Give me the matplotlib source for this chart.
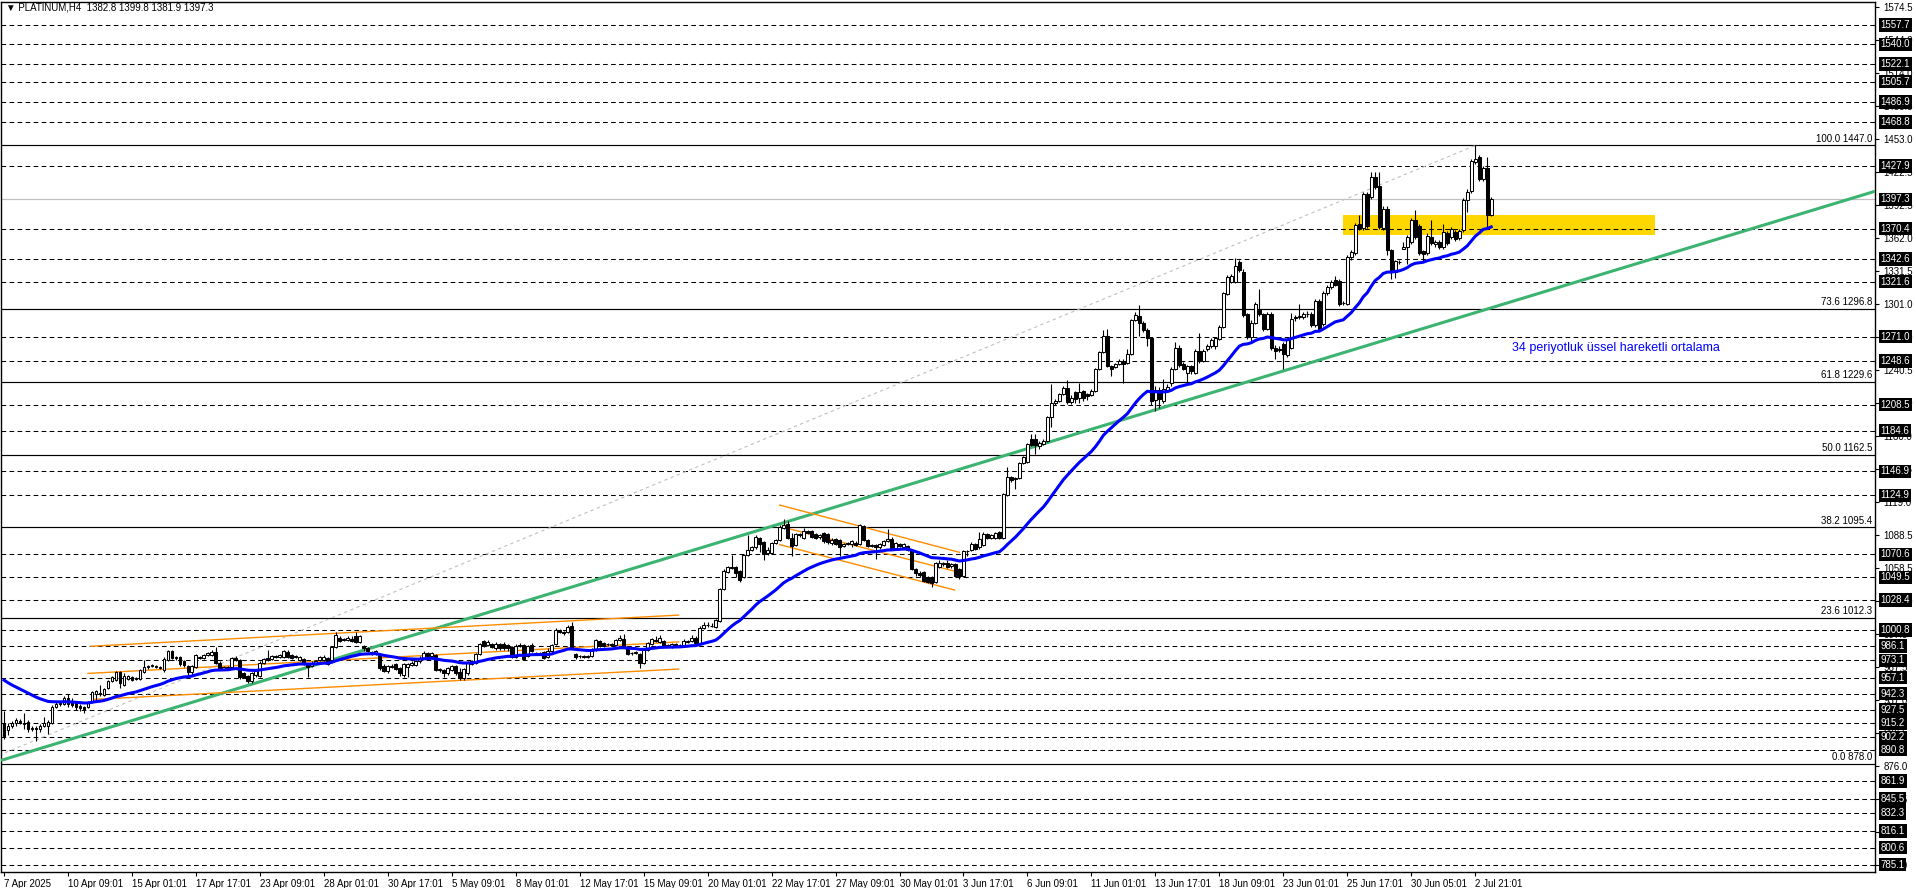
import numpy as np
import matplotlib
matplotlib.use("Agg")
import matplotlib.pyplot as plt
from matplotlib.patches import Rectangle
from matplotlib.transforms import blended_transform_factory

plt.rcParams['font.family'] = ['Liberation Sans', 'DejaVu Sans']

# ---- H4 candles, PLATINUM, 7 Apr - 3 Jul 2025 ----
opens = [
    915, 909, 913, 915, 916, 915, 916, 910, 911, 910,
    913, 913, 915, 930, 933, 933, 938, 936, 934, 931,
    930, 930, 935, 942, 943, 941, 948, 954, 955, 962,
    950, 956, 958, 956, 956, 962, 967, 968, 968, 966,
    964, 973, 982, 975, 976, 972, 968, 962, 967, 976,
    975, 978, 978, 981, 971, 965, 967, 967, 975, 973,
    961, 959, 954, 960, 959, 971, 975, 974, 977, 976,
    976, 981, 978, 976, 973, 974, 970, 968, 971, 973,
    973, 975, 973, 985, 994, 992, 992, 993, 995, 990,
    986, 984, 981, 979, 978, 968, 963, 967, 970, 966,
    960, 967, 969, 969, 972, 975, 980, 977, 978, 964,
    964, 961, 964, 968, 962, 957, 961, 970, 971, 979,
    991, 987, 988, 984, 988, 988, 987, 985, 976, 986,
    987, 977, 987, 980, 979, 981, 976, 982, 988, 1001,
    999, 999, 1005, 979, 977, 977, 976, 977, 983, 991,
    989, 988, 988, 987, 992, 993, 985, 980, 980, 979,
    971, 983, 988, 992, 990, 991, 987, 985, 988, 987,
    987, 990, 991, 994, 989, 1003, 1006, 1005, 1004, 1009,
    1039, 1054, 1059, 1059, 1055, 1050, 1070, 1075, 1077, 1086,
    1082, 1072, 1072, 1081, 1084, 1095, 1099, 1086, 1079, 1089,
    1086, 1092, 1092, 1089, 1087, 1090, 1089, 1081, 1085, 1084,
    1078, 1080, 1080, 1081, 1080, 1097, 1084, 1078, 1079, 1077,
    1079, 1083, 1085, 1076, 1080, 1077, 1078, 1075, 1057, 1053,
    1054, 1050, 1050, 1045, 1059, 1062, 1063, 1060, 1062, 1057,
    1051, 1074, 1075, 1080, 1077, 1079, 1089, 1086, 1086, 1091,
    1086, 1125, 1142, 1140, 1141, 1155, 1156, 1177, 1177, 1170,
    1172, 1175, 1197, 1210, 1212, 1218, 1224, 1211, 1220, 1215,
    1221, 1218, 1217, 1221, 1241, 1257, 1272, 1244, 1243, 1246,
    1249, 1247, 1255, 1286, 1290, 1284, 1277, 1270, 1213, 1222,
    1212, 1221, 1228, 1241, 1261, 1246, 1238, 1244, 1238, 1258,
    1249, 1260, 1262, 1262, 1269, 1280, 1310, 1321, 1321, 1340,
    1331, 1292, 1271, 1284, 1296, 1292, 1278, 1292, 1261, 1259,
    1264, 1254, 1261, 1288, 1289, 1289, 1292, 1292, 1282, 1304,
    1283, 1311, 1317, 1323, 1322, 1302, 1301, 1344, 1348, 1375,
    1371, 1402, 1400, 1418, 1410, 1371, 1389, 1351, 1331, 1340,
    1352, 1354, 1358, 1378, 1373, 1350, 1348, 1363, 1356, 1358,
    1354, 1366, 1363, 1367, 1362, 1369, 1397, 1405, 1432, 1436,
    1416, 1426, 1382.8,
]
highs = [
    926, 915, 917, 920, 919, 925, 918, 913, 913, 914,
    921, 918, 932, 935, 936, 940, 942, 938, 935, 933,
    931, 936, 945, 946, 950, 948, 955, 959, 963, 963,
    961, 960, 959, 958, 965, 973, 969, 970, 969, 968,
    976, 983, 983, 977, 977, 973, 969, 969, 979, 977,
    979, 981, 983, 985, 972, 968, 968, 976, 977, 974,
    962, 960, 962, 964, 972, 975, 983, 978, 978, 979,
    983, 983, 979, 978, 977, 975, 971, 972, 973, 977,
    978, 976, 986, 999, 995, 994, 995, 995, 999, 996,
    987, 985, 982, 983, 979, 970, 969, 970, 971, 967,
    971, 971, 972, 973, 977, 982, 981, 981, 979, 966,
    965, 967, 969, 969, 966, 966, 972, 973, 980, 989,
    992, 992, 989, 990, 989, 990, 988, 986, 988, 989,
    988, 987, 989, 981, 981, 982, 984, 988, 1003, 1002,
    1000, 1006, 1008, 980, 978, 978, 978, 984, 993, 992,
    990, 989, 989, 993, 996, 997, 986, 981, 982, 980,
    984, 990, 994, 995, 996, 992, 988, 989, 989, 988,
    993, 992, 996, 995, 1005, 1008, 1008, 1007, 1011, 1040,
    1057, 1060, 1070, 1060, 1056, 1071, 1088, 1078, 1088, 1087,
    1083, 1077, 1082, 1085, 1098, 1103, 1101, 1090, 1090, 1090,
    1095, 1093, 1093, 1090, 1089, 1091, 1090, 1086, 1086, 1085,
    1081, 1082, 1084, 1083, 1099, 1098, 1085, 1080, 1080, 1081,
    1084, 1094, 1087, 1082, 1081, 1081, 1079, 1076, 1058, 1055,
    1055, 1051, 1051, 1064, 1065, 1064, 1065, 1063, 1063, 1058,
    1075, 1075, 1082, 1081, 1091, 1091, 1090, 1089, 1091, 1092,
    1127, 1151, 1143, 1142, 1156, 1161, 1173, 1181, 1181, 1175,
    1177, 1198, 1227, 1214, 1219, 1226, 1231, 1217, 1221, 1228,
    1222, 1219, 1223, 1242, 1258, 1277, 1278, 1245, 1247, 1250,
    1250, 1260, 1287, 1294, 1300, 1285, 1279, 1271, 1226, 1225,
    1232, 1227, 1243, 1266, 1263, 1248, 1245, 1245, 1260, 1274,
    1260, 1264, 1270, 1271, 1282, 1312, 1328, 1329, 1343, 1342,
    1333, 1293, 1286, 1303, 1315, 1293, 1294, 1294, 1263, 1262,
    1266, 1270, 1293, 1291, 1301, 1294, 1295, 1294, 1306, 1306,
    1313, 1319, 1323, 1327, 1324, 1304, 1346, 1351, 1376, 1383,
    1404, 1404, 1423, 1423, 1423, 1391, 1391, 1352, 1342, 1342,
    1358, 1365, 1380, 1388, 1375, 1351, 1366, 1378, 1360, 1360,
    1375, 1368, 1372, 1369, 1370, 1399, 1407, 1435, 1447, 1438,
    1428, 1436, 1399.8,
]
lows = [
    901, 904, 911, 913, 914, 910, 907, 908, 899, 907,
    912, 905, 914, 929, 931, 932, 930, 930, 927, 926,
    925, 929, 934, 936, 940, 940, 947, 953, 954, 948,
    949, 955, 954, 955, 955, 961, 965, 967, 966, 965,
    962, 972, 974, 973, 968, 967, 960, 960, 966, 974,
    974, 977, 977, 970, 964, 964, 965, 966, 972, 956,
    957, 952, 952, 958, 958, 970, 972, 973, 975, 975,
    975, 975, 974, 975, 972, 969, 958, 967, 970, 972,
    972, 969, 972, 984, 990, 991, 991, 990, 989, 989,
    982, 981, 978, 978, 964, 962, 961, 966, 964, 959,
    958, 958, 968, 968, 971, 974, 976, 976, 963, 962,
    958, 960, 963, 960, 955, 955, 960, 969, 970, 978,
    985, 986, 984, 983, 983, 983, 982, 975, 975, 985,
    973, 976, 981, 978, 978, 974, 975, 981, 987, 998,
    996, 998, 984, 974, 975, 975, 975, 976, 982, 985,
    985, 986, 986, 986, 991, 984, 978, 978, 979, 966,
    970, 982, 987, 990, 989, 986, 985, 984, 985, 985,
    986, 989, 990, 988, 988, 1002, 1004, 1004, 1003, 1008,
    1038, 1053, 1057, 1050, 1045, 1049, 1069, 1074, 1076, 1073,
    1065, 1070, 1071, 1080, 1083, 1094, 1085, 1069, 1078, 1087,
    1085, 1089, 1086, 1085, 1085, 1081, 1080, 1079, 1079, 1069,
    1077, 1079, 1077, 1078, 1079, 1083, 1077, 1077, 1066, 1076,
    1078, 1082, 1075, 1075, 1077, 1076, 1074, 1056, 1051, 1050,
    1045, 1044, 1041, 1044, 1058, 1060, 1058, 1058, 1050, 1048,
    1050, 1069, 1074, 1075, 1076, 1078, 1085, 1085, 1085, 1085,
    1085, 1124, 1137, 1131, 1140, 1154, 1155, 1170, 1163, 1168,
    1171, 1174, 1188, 1208, 1211, 1217, 1209, 1209, 1210, 1210,
    1212, 1213, 1216, 1220, 1240, 1256, 1243, 1235, 1242, 1245,
    1228, 1246, 1254, 1285, 1272, 1275, 1262, 1208, 1203, 1205,
    1210, 1220, 1226, 1240, 1243, 1240, 1229, 1237, 1237, 1247,
    1248, 1258, 1261, 1260, 1268, 1279, 1309, 1320, 1320, 1331,
    1289, 1269, 1266, 1283, 1290, 1276, 1277, 1259, 1250, 1257,
    1241, 1252, 1260, 1285, 1287, 1287, 1289, 1280, 1280, 1276,
    1281, 1309, 1315, 1318, 1299, 1300, 1300, 1342, 1346, 1369,
    1369, 1371, 1398, 1407, 1370, 1369, 1346, 1324, 1325, 1338,
    1352, 1338, 1356, 1361, 1346, 1341, 1346, 1355, 1354, 1352,
    1352, 1355, 1361, 1359, 1360, 1367, 1386, 1403, 1430, 1414,
    1414, 1370, 1381.9,
]
closes = [
    903, 913, 915, 918, 917, 914, 910, 911, 910, 913,
    915, 916, 930, 933, 934, 938, 933, 932, 930, 929,
    928, 935, 944, 945, 942, 947, 954, 958, 962, 952,
    959, 959, 955, 957, 964, 967, 968, 969, 967, 967,
    974, 982, 975, 976, 970, 969, 962, 968, 978, 975,
    978, 980, 981, 971, 965, 967, 966, 975, 973, 958,
    958, 954, 961, 963, 971, 974, 973, 977, 976, 978,
    982, 976, 975, 977, 976, 970, 967, 971, 972, 976,
    976, 970, 985, 996, 991, 993, 994, 991, 990, 995,
    984, 982, 980, 982, 966, 963, 968, 968, 965, 961,
    970, 970, 971, 972, 975, 980, 977, 980, 964, 965,
    961, 966, 968, 961, 957, 965, 971, 972, 979, 988,
    986, 990, 985, 988, 984, 984, 984, 976, 986, 987,
    974, 986, 982, 979, 980, 975, 982, 987, 1001, 999,
    998, 1004, 985, 976, 977, 976, 977, 983, 992, 986,
    986, 988, 987, 992, 994, 985, 979, 980, 981, 971,
    983, 989, 993, 991, 994, 987, 986, 988, 986, 987,
    991, 991, 994, 989, 1003, 1006, 1006, 1005, 1010, 1039,
    1055, 1059, 1058, 1053, 1047, 1070, 1075, 1077, 1087, 1080,
    1071, 1075, 1081, 1084, 1096, 1098, 1086, 1078, 1089, 1088,
    1092, 1090, 1087, 1086, 1088, 1083, 1082, 1084, 1080, 1077,
    1080, 1081, 1083, 1079, 1098, 1084, 1078, 1079, 1077, 1080,
    1083, 1085, 1076, 1081, 1078, 1080, 1075, 1057, 1053, 1052,
    1046, 1045, 1044, 1063, 1063, 1063, 1059, 1062, 1051, 1051,
    1074, 1074, 1080, 1076, 1085, 1089, 1086, 1088, 1090, 1086,
    1126, 1142, 1139, 1141, 1155, 1160, 1172, 1171, 1171, 1173,
    1175, 1197, 1210, 1212, 1218, 1224, 1211, 1215, 1214, 1220,
    1215, 1216, 1221, 1241, 1257, 1272, 1244, 1241, 1246, 1249,
    1246, 1255, 1286, 1291, 1284, 1277, 1270, 1212, 1222, 1214,
    1223, 1225, 1241, 1261, 1245, 1241, 1244, 1239, 1258, 1249,
    1258, 1262, 1268, 1270, 1280, 1311, 1326, 1327, 1336, 1332,
    1291, 1271, 1284, 1301, 1292, 1278, 1292, 1261, 1258, 1260,
    1255, 1268, 1287, 1289, 1290, 1292, 1292, 1282, 1304, 1278,
    1311, 1317, 1321, 1319, 1301, 1302, 1344, 1349, 1374, 1371,
    1402, 1373, 1418, 1409, 1372, 1389, 1351, 1331, 1341, 1340,
    1354, 1363, 1378, 1363, 1348, 1347, 1364, 1357, 1358, 1354,
    1367, 1357, 1370, 1361, 1368, 1397, 1404, 1433, 1435, 1416,
    1426, 1383, 1397.3,
]

ema_period = 34
ema_seed = 958.0          # EMA value at the first visible bar

# horizontal dashed levels (labels in black boxes on the price axis)
levels = [1557.7, 1540.0, 1522.1, 1505.7, 1486.9, 1468.8, 1427.9, 1370.4,
          1342.6, 1321.6, 1271.0, 1248.6, 1208.5, 1184.6, 1146.9, 1124.9,
          1070.6, 1049.5, 1028.4, 1000.8, 986.1, 973.1, 957.1, 942.3,
          927.5, 915.2, 902.2, 890.8, 861.9, 845.5, 832.3, 816.1, 800.6, 785.1]
last_price = 1397.3

# Fibonacci retracement
fib_pct = ["100.0", "73.6", "61.8", "50.0", "38.2", "23.6", "0.0"]
fib_prices = [1447.0, 1296.8, 1229.6, 1162.5, 1095.4, 1012.3, 878.0]
fib_anchor_bars = [-6.3, 368]
fib_anchor_prices = [878.0, 1447.0]

# green trend line (ray) anchors
trend_bars = [0, 374]
trend_prices = [881.8, 1299.8]

# orange channels: (bar0, bar1, price0, price1)
channels = [
    (21.75, 168.75, 986.0, 1014.7),
    (21.0, 168.75, 961.0, 990.0),
    (22.0, 168.75, 937.0, 965.0),
    (194.0, 239.0, 1116.0, 1072.5),
    (195.0, 239.0, 1095.5, 1054.0),
    (194.0, 237.75, 1079.6, 1037.8),
]

# yellow zone
zone_bars = [335, 413]
zone_prices = [1364.2, 1382.6]

# price axis ticks
ytick_vals = [1574.5, 1544.1, 1513.75, 1483.4, 1453.0, 1422.6, 1392.25, 1361.9,
              1331.5, 1301.1, 1270.75, 1240.4, 1210.0, 1179.6, 1149.25, 1118.9,
              1088.5, 1058.1, 1027.75, 997.4, 967.0, 936.6, 906.25, 875.9,
              845.5, 815.1, 784.75]
ytick_labels = ["1574.5", "1544.0", "1514.0", "1483.5", "1453.0", "1422.5",
                "1392.5", "1362.0", "1331.5", "1301.0", "1271.0", "1240.5",
                "1210.0", "1180.0", "1149.5", "1119.0", "1088.5", "1058.5",
                "1028.0", "997.5", "967.5", "937.0", "906.5", "876.0",
                "845.5", "815.0", "785.0"]

# time axis (a label every 16 bars)
xtick_labels = ["7 Apr 2025", "10 Apr 09:01", "15 Apr 01:01", "17 Apr 17:01",
                "23 Apr 09:01", "28 Apr 01:01", "30 Apr 17:01", "5 May 09:01",
                "8 May 01:01", "12 May 17:01", "15 May 09:01", "20 May 01:01",
                "22 May 17:01", "27 May 09:01", "30 May 01:01", "3 Jun 17:01",
                "6 Jun 09:01", "11 Jun 01:01", "13 Jun 17:01", "18 Jun 09:01",
                "23 Jun 01:01", "25 Jun 17:01", "30 Jun 05:01", "2 Jul 21:01"]

title = "\u25bc PLATINUM,H4  1382.8 1399.8 1381.9 1397.3"
note = "34 periyotluk üssel hareketli ortalama"

# ---------------------------------------------------------------------
o = np.array(opens, float)
h = np.array(highs, float)
l = np.array(lows, float)
c = np.array(closes, float)
x = np.arange(len(c))

fig = plt.figure(figsize=(19.16, 8.88), dpi=100)
ax = fig.add_axes([1 / 1916, 16 / 888, 1874 / 1916, 870 / 888])
x_min, x_max = -0.75, 468
ax.set_xlim(x_min, x_max)
ax.set_ylim(778.2, 1579.1)

# zone
ax.add_patch(Rectangle((zone_bars[0], zone_prices[0]), zone_bars[1] - zone_bars[0],
                       zone_prices[1] - zone_prices[0], fc='#FFD700', ec='none', zorder=1))

# levels
for lv in levels:
    ax.axhline(lv, color='black', lw=0.75, dashes=(4.5, 3.2), zorder=2)
for fp in fib_prices:
    ax.axhline(fp, color='black', lw=0.85, zorder=2)
ax.axhline(last_price, color='#c0c0c0', lw=0.9, zorder=2)

# fib diagonal
ax.plot(fib_anchor_bars, fib_anchor_prices, color='#c0c0c0', lw=0.8,
        dashes=(3, 3), zorder=2)

# trend line extended to the right edge
slope = (trend_prices[1] - trend_prices[0]) / (trend_bars[1] - trend_bars[0])
tx = np.array([x_min, x_max])
ax.plot(tx, trend_prices[0] + slope * (tx - trend_bars[0]), color='#3cb371',
        lw=2.2, zorder=3, solid_capstyle='butt')

# orange channels
for b0, b1, p0, p1 in channels:
    ax.plot([b0, b1], [p0, p1], color='#ff8c00', lw=1.0, zorder=3)

# candles
ax.vlines(x, l, h, color='black', lw=0.8, zorder=4)
up = c >= o
ax.bar(x[up], c[up] - o[up], bottom=o[up], width=0.7, color='white',
       edgecolor='black', linewidth=0.75, zorder=5)
ax.bar(x[~up], o[~up] - c[~up], bottom=c[~up], width=0.7, color='black',
       edgecolor='black', linewidth=0.75, zorder=5)

# EMA 34
alpha = 2.0 / (ema_period + 1)
ema = []
prev = ema_seed
for v in c:
    prev = prev + alpha * (v - prev)
    ema.append(prev)
ax.plot(x, ema, color='#0000ff', lw=2.2, zorder=6)

# fib labels
for pct, fp in zip(fib_pct, fib_prices):
    ax.text(x_max - 0.6, fp + 1.2, f"{pct} {fp:.1f}", ha='right', va='bottom',
            fontsize=7, color='black', zorder=7)

ax.text(377.25, 1260.2, note, color='#0000ff', fontsize=9, va='center',
        ha='left', zorder=7)

fig.text(6 / 1916, 1 - 8 / 888, title, fontsize=7, va='center', ha='left')

# axes styling
for sp in ax.spines.values():
    sp.set_color('black')
    sp.set_linewidth(1.0)
ax.yaxis.tick_right()
ax.set_yticks(ytick_vals)
ax.set_yticklabels(ytick_labels)
ax.tick_params(axis='y', direction='out', length=3, width=0.8, labelsize=7, pad=3)
ax.set_xticks(np.arange(len(xtick_labels)) * 16)
ax.set_xticklabels(xtick_labels)
for t in ax.get_xticklabels():
    t.set_ha('left')
ax.tick_params(axis='x', direction='out', length=3, width=0.8, labelsize=7, pad=2)

# black price boxes on the axis
trans = blended_transform_factory(ax.transAxes, ax.transData)
for lv in levels + [last_price]:
    ax.annotate(f"{lv:.1f}", xy=(1, lv), xycoords=trans, xytext=(4, 0),
                textcoords='offset points', ha='left', va='center', fontsize=7,
                color='white', annotation_clip=False, zorder=10,
                bbox=dict(boxstyle='square,pad=0.18', fc='black', ec='none'))

fig.savefig("out.png", dpi=100, facecolor='white')
